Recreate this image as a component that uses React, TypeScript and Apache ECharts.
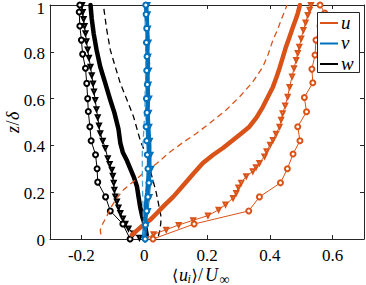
import React, { useEffect, useRef } from "react";
import * as echarts from "echarts";

const ORANGE = "#D95319";
const BLUE = "#0072BD";
const BLACK = "#000000";
const AXIS = "#262626";
const FAMILY = '"Liberation Serif"';
const SYMFAMILY = '"DejaVu Sans"';

const xTicks = [-0.2, 0, 0.2, 0.4, 0.6];
const yTicks = [0, 0.2, 0.4, 0.6, 0.8, 1];
const xTickLabels = ["-0.2", "0", "0.2", "0.4", "0.6"];
const yTickLabels = ["0", "0.2", "0.4", "0.6", "0.8", "1"];
const legendNames = ["u", "v", "w"];
const legendColors = [ORANGE, BLUE, BLACK];

// each point: [<u_i>/U_inf, z/delta]
const uThick = [
  [-0.039, 0.018], [-0.02, 0.04], [-0.002, 0.061], [0.02, 0.083], [0.04, 0.11], [0.065, 0.145],
  [0.093, 0.181], [0.124, 0.229], [0.155, 0.277], [0.187, 0.325], [0.22, 0.36], [0.251, 0.389],
  [0.283, 0.423], [0.31, 0.452], [0.335, 0.48], [0.358, 0.52], [0.378, 0.565], [0.395, 0.61],
  [0.41, 0.65], [0.421, 0.69], [0.431, 0.73], [0.44, 0.77], [0.45, 0.815], [0.462, 0.86],
  [0.474, 0.907], [0.483, 0.94], [0.489, 0.964], [0.496, 1.0],
];
const uDash = [
  [-0.138, 0.02], [-0.14, 0.038], [-0.134, 0.061], [-0.12, 0.095], [-0.108, 0.13], [-0.09, 0.17],
  [-0.066, 0.21], [-0.035, 0.245], [-0.002, 0.282], [0.04, 0.323], [0.08, 0.37], [0.124, 0.413],
  [0.165, 0.45], [0.208, 0.494], [0.26, 0.55], [0.304, 0.608], [0.345, 0.67], [0.378, 0.736],
  [0.395, 0.79], [0.41, 0.85], [0.425, 0.895], [0.436, 0.936], [0.452, 0.99], [0.455, 1.0],
];
const uTri = [
  [0.005, 0.0], [0.03, 0.02], [0.07, 0.04], [0.11, 0.06], [0.156, 0.08], [0.203, 0.1],
  [0.237, 0.125], [0.259, 0.147], [0.283, 0.175], [0.293, 0.197], [0.3, 0.22], [0.309, 0.24],
  [0.325, 0.268], [0.346, 0.289], [0.356, 0.307], [0.367, 0.325], [0.383, 0.353], [0.39, 0.375],
  [0.401, 0.403], [0.41, 0.423], [0.42, 0.45], [0.431, 0.48], [0.436, 0.51], [0.441, 0.537],
  [0.449, 0.57], [0.457, 0.608], [0.463, 0.65], [0.471, 0.694], [0.477, 0.73], [0.484, 0.765],
  [0.489, 0.795], [0.494, 0.822], [0.5, 0.857], [0.507, 0.893], [0.514, 0.925], [0.521, 0.957],
  [0.527, 0.98], [0.531, 1.0],
];
const uCirc = [
  [0.028, 0.0], [0.159, 0.064], [0.333, 0.12], [0.367, 0.18], [0.434, 0.24], [0.456, 0.3],
  [0.474, 0.363], [0.496, 0.42], [0.489, 0.48], [0.517, 0.544], [0.51, 0.605], [0.537, 0.668],
  [0.534, 0.726], [0.544, 0.786], [0.547, 0.85], [0.56, 0.91], [0.575, 0.966], [0.56, 1.0],
];

const vThick = [
  [0.0, 0.01], [0.002, 0.05], [0.003, 0.1], [0.006, 0.15], [0.01, 0.2], [0.013, 0.25],
  [0.015, 0.3], [0.016, 0.35], [0.016, 0.4], [0.014, 0.45], [0.012, 0.5], [0.01, 0.55],
  [0.012, 0.6], [0.011, 0.65], [0.01, 0.7], [0.012, 0.75], [0.01, 0.8], [0.011, 0.85],
  [0.009, 0.9], [0.008, 0.95], [0.006, 1.0],
];
const vDash = [
  [0.0, 0.01], [-0.003, 0.1], [-0.005, 0.2], [-0.006, 0.3], [-0.006, 0.37], [-0.002, 0.45],
  [0.002, 0.55], [0.004, 0.7], [0.005, 0.8], [0.005, 0.9], [0.005, 1.0],
];
const vTri = [
  [0.002, 0.0], [0.006, 0.06], [0.012, 0.12], [0.017, 0.18], [0.02, 0.24], [0.022, 0.3],
  [0.02, 0.36], [0.018, 0.42], [0.016, 0.48], [0.015, 0.54], [0.016, 0.6], [0.014, 0.66],
  [0.015, 0.72], [0.013, 0.78], [0.014, 0.84], [0.012, 0.9], [0.011, 0.96], [0.01, 1.0],
];
const vCirc = [
  [0.003, 0.0], [0.004, 0.06], [0.008, 0.12], [0.012, 0.18], [0.015, 0.24], [0.012, 0.3],
  [0.01, 0.36], [0.008, 0.42], [0.006, 0.48], [0.009, 0.54], [0.007, 0.6], [0.01, 0.66],
  [0.008, 0.72], [0.009, 0.78], [0.007, 0.84], [0.008, 0.9], [0.006, 0.96], [0.005, 1.0],
];

const wThick = [
  [0.008, 0.017], [0.003, 0.056], [-0.006, 0.095], [-0.013, 0.138], [-0.018, 0.18], [-0.023, 0.224],
  [-0.034, 0.268], [-0.044, 0.3], [-0.055, 0.335], [-0.068, 0.37], [-0.076, 0.41], [-0.082, 0.47],
  [-0.095, 0.54], [-0.108, 0.594], [-0.125, 0.67], [-0.14, 0.736], [-0.152, 0.81], [-0.161, 0.879],
  [-0.167, 0.94], [-0.171, 1.0],
];
const wDash = [
  [0.045, 0.012], [0.05, 0.038], [0.053, 0.07], [0.053, 0.1], [0.045, 0.154], [0.038, 0.2],
  [0.03, 0.24], [0.018, 0.3], [0.008, 0.353], [-0.013, 0.423], [-0.034, 0.523], [-0.055, 0.595],
  [-0.076, 0.665], [-0.093, 0.74], [-0.108, 0.808], [-0.12, 0.9], [-0.129, 0.99], [-0.13, 1.0],
];
const wTri = [
  [-0.015, 0.005], [-0.034, 0.024], [-0.05, 0.045], [-0.06, 0.065], [-0.068, 0.088], [-0.076, 0.111],
  [-0.082, 0.135], [-0.087, 0.16], [-0.092, 0.182], [-0.095, 0.21], [-0.097, 0.24], [-0.1, 0.27],
  [-0.103, 0.296], [-0.11, 0.32], [-0.116, 0.345], [-0.124, 0.389], [-0.132, 0.42], [-0.14, 0.452],
  [-0.144, 0.485], [-0.148, 0.52], [-0.152, 0.555], [-0.156, 0.594], [-0.16, 0.63], [-0.163, 0.665],
  [-0.167, 0.7], [-0.171, 0.736], [-0.176, 0.775], [-0.18, 0.81], [-0.184, 0.845], [-0.187, 0.879],
  [-0.19, 0.91], [-0.193, 0.94], [-0.196, 0.97], [-0.198, 1.0],
];
const wCirc = [
  [-0.045, 0.0], [-0.068, 0.064], [-0.108, 0.12], [-0.123, 0.18], [-0.148, 0.243], [-0.15, 0.3],
  [-0.155, 0.36], [-0.169, 0.42], [-0.173, 0.48], [-0.178, 0.545], [-0.18, 0.6], [-0.183, 0.665],
  [-0.187, 0.73], [-0.196, 0.79], [-0.2, 0.85], [-0.205, 0.91], [-0.207, 0.97], [-0.205, 1.0],
];

type Kind = "thick" | "dash" | "tri" | "circ";

function mk(name: string, data: number[][], color: string, kind: Kind, z: number) {
  const base: any = {
    type: "line",
    name,
    data,
    color,
    z,
    silent: true,
    clip: true,
    animation: false,
    itemStyle: { color, borderColor: color, borderWidth: 1 },
  };
  if (kind === "thick") {
    base.symbol = "none";
    base.lineStyle = { color, width: 4.5, cap: "round", join: "round" };
  } else if (kind === "dash") {
    base.symbol = "none";
    base.lineStyle = { color, width: 1.3, type: [6, 4] };
  } else if (kind === "tri") {
    base.symbol = "emptyTriangle";
    base.symbolSize = 4;
    base.symbolRotate = 180;
    base.lineStyle = { color, width: 1 };
  } else {
    base.symbol = "emptyCircle";
    base.symbolSize = 5;
    base.lineStyle = { color, width: 1 };
  }
  return base;
}

let measureCtx: CanvasRenderingContext2D | null = null;
function measure(text: string, font: string): number {
  if (!measureCtx) measureCtx = document.createElement("canvas").getContext("2d");
  if (!measureCtx) return text.length * 8;
  measureCtx.font = font;
  return measureCtx.measureText(text).width;
}

function fontOf(size: number, italic = false, family = FAMILY) {
  return `${italic ? "italic " : ""}${size}px ${family}`;
}

// top-left placed text, font given as one shorthand string
function boxText(text: string, left: number, top: number, font: string) {
  return { type: "text", left, top, z: 100, silent: true, style: { text, font } };
}
// text inside a group, placed by its top-left corner
function localText(text: string, x: number, y: number, font: string) {
  return { type: "text", x, y, z: 100, silent: true, style: { text, font } };
}

export default function App() {
  const ref = useRef<HTMLDivElement>(null);
  useEffect(() => {
    if (!ref.current) return;
    const chart = echarts.init(ref.current, null, { renderer: "svg" });
    const axisCommon = {
      type: "value" as const,
      axisLine: { show: true, onZero: false, lineStyle: { color: AXIS, width: 1 } },
      splitLine: { show: false },
      axisLabel: { show: false },
    };
    chart.setOption({
      animation: false,
      grid: { left: 50, right: 2, top: 5, bottom: 46, containLabel: false, outerBoundsMode: "none" },
      xAxis: [
        {
          ...axisCommon,
          position: "bottom",
          min: -0.3,
          max: 0.7,
          axisTick: { show: true, inside: true, length: 4, customValues: xTicks, lineStyle: { color: AXIS } },
        },
        {
          ...axisCommon,
          position: "top",
          min: -0.3,
          max: 0.7,
          axisTick: { show: true, inside: true, length: 4, customValues: xTicks, lineStyle: { color: AXIS } },
        },
      ],
      yAxis: [
        {
          ...axisCommon,
          position: "left",
          min: 0,
          max: 1,
          interval: 0.2,
          axisTick: { show: true, inside: true, length: 4, lineStyle: { color: AXIS } },
        },
        {
          ...axisCommon,
          position: "right",
          min: 0,
          max: 1,
          interval: 0.2,
          axisTick: { show: true, inside: true, length: 4, lineStyle: { color: AXIS } },
        },
      ],
      series: [
        mk("u", uThick, ORANGE, "thick", 3),
        mk("v", vThick, BLUE, "thick", 4),
        mk("w", wThick, BLACK, "thick", 2),
        mk("w", wDash, BLACK, "dash", 2),
        mk("w", wTri, BLACK, "tri", 2),
        mk("w", wCirc, BLACK, "circ", 2),
        mk("u", uDash, ORANGE, "dash", 3),
        mk("u", uTri, ORANGE, "tri", 3),
        mk("u", uCirc, ORANGE, "circ", 3),
        mk("v", vDash, "#4DA3DB", "dash", 4),
        mk("v", vTri, BLUE, "tri", 4),
        mk("v", vCirc, BLUE, "circ", 4),
      ],
    });

    // texts placed from the axes' own scales
    const x0 = chart.convertToPixel({ xAxisIndex: 0 }, -0.3) as number;
    const x1 = chart.convertToPixel({ xAxisIndex: 0 }, 0.7) as number;
    const yBottom = chart.convertToPixel({ yAxisIndex: 0 }, 0) as number;
    const yTop = chart.convertToPixel({ yAxisIndex: 0 }, 1) as number;
    const graphics: any[] = [];
    const tickFont = fontOf(17);
    xTicks.forEach((v, i) => {
      const px = chart.convertToPixel({ xAxisIndex: 0 }, v) as number;
      const w = measure(xTickLabels[i], tickFont);
      graphics.push(boxText(xTickLabels[i], px - w / 2, yBottom + 16 - 8.5, tickFont));
    });
    yTicks.forEach((v, i) => {
      const py = chart.convertToPixel({ yAxisIndex: 0 }, v) as number;
      const w = measure(yTickLabels[i], tickFont);
      graphics.push(boxText(yTickLabels[i], x0 - 5 - w, Math.max(0, py + 1.5 - 8.5), tickFont));
    });
    // x axis title  <u_i>/U_inf
    const cx = (x0 + x1) / 2;
    const tx = cx - 35;
    const ty = yBottom + 36;
    graphics.push(boxText("⟨", tx, ty - 8, fontOf(16, false, SYMFAMILY)));
    graphics.push(boxText("u", tx + 7, ty - 9, fontOf(18, true)));
    graphics.push(boxText("i", tx + 15.5, ty - 2, fontOf(12, true)));
    graphics.push(boxText("⟩", tx + 19.5, ty - 8, fontOf(16, false, SYMFAMILY)));
    graphics.push(boxText("/", tx + 26, ty - 9, fontOf(18)));
    graphics.push(boxText("U", tx + 33, ty - 9, fontOf(18, true)));
    graphics.push(boxText("∞", tx + 47.5, ty - 3, fontOf(14)));
    // y axis title  z/delta (rotated)
    const cy = (yTop + yBottom) / 2;
    graphics.push({
      type: "group",
      x: 13,
      y: cy + 11,
      rotation: Math.PI / 2,
      children: [
        localText("z", 0, -9, fontOf(18, true)),
        localText("/", 7.5, -9, fontOf(18)),
        localText("δ", 13, -9, fontOf(18, true)),
      ],
    });
    // legend box
    const lx = 317;
    const ly = 12;
    const lw = 42;
    const lh = 60;
    graphics.push({
      type: "rect",
      z: 99,
      silent: true,
      shape: { x: lx + 0.5, y: ly + 0.5, width: lw, height: lh },
      style: { fill: "#ffffff", stroke: AXIS, lineWidth: 1 },
    });
    legendNames.forEach((n, i) => {
      const yy = ly + 11 + i * 20.5;
      graphics.push({
        type: "line",
        z: 100,
        silent: true,
        shape: { x1: lx + 3, y1: yy, x2: lx + 21, y2: yy },
        style: { stroke: legendColors[i], lineWidth: 2 },
      });
      graphics.push(boxText(n, lx + 24, yy - 1 - 9.5, fontOf(19, true)));
    });
    chart.setOption({ graphic: graphics });

    return () => chart.dispose();
  }, []);
  return (
    <div
      ref={ref}
      style={{ position: "fixed", left: 0, top: 0, width: 366, height: 285, background: "#fff" }}
    />
  );
}
